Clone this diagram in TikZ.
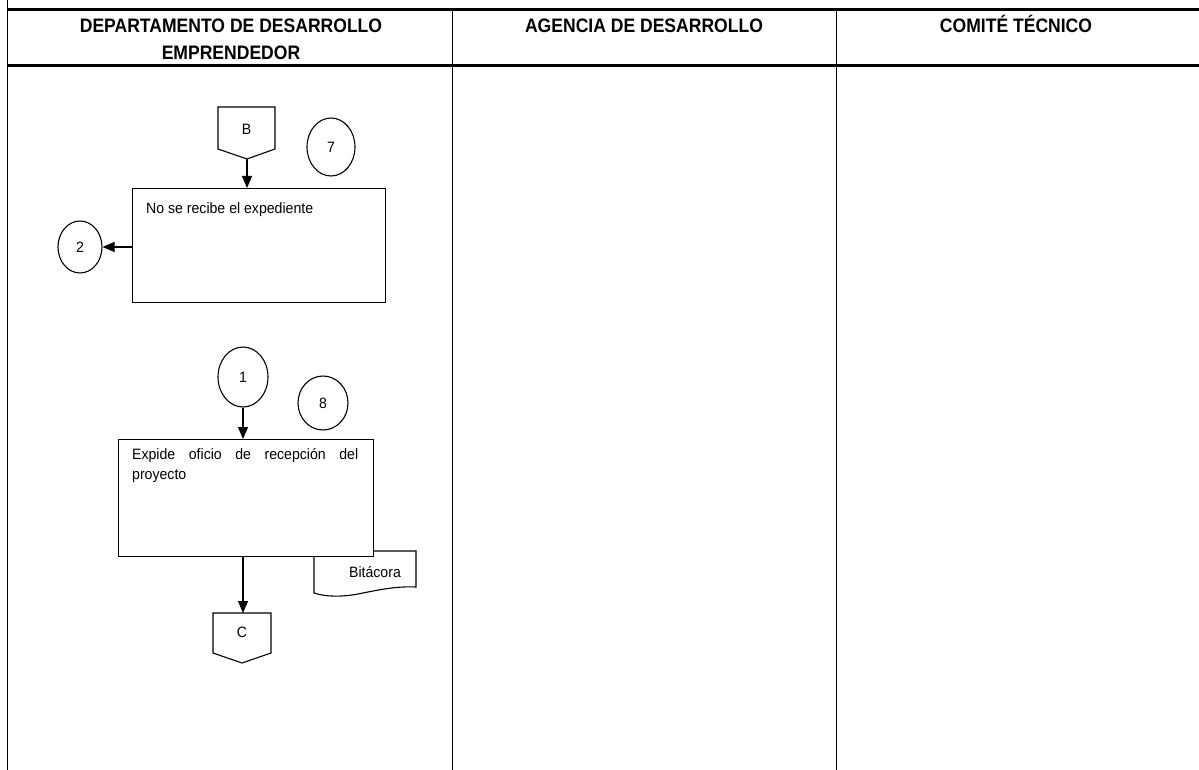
\documentclass[tikz,border=0pt]{standalone}
\usepackage{fontspec}
\setmainfont{Liberation Sans}
\newfontfamily\hdrfont[FakeStretch=0.9]{Liberation Sans}
\newfontfamily\bodyfont[FakeStretch=0.94]{Liberation Sans}
\usetikzlibrary{arrows.meta,shapes.geometric}
\begin{document}
\begin{tikzpicture}[x=1pt,y=-1pt,
  hdr/.style={font=\hdrfont\bfseries\fontsize{19.5}{27}\selectfont, align=center, inner sep=0},
  txt/.style={font=\bodyfont\fontsize{15}{20}\selectfont, inner sep=0},
  heavy/.style={line width=3pt},
  lane/.style={line width=1pt},
  shp/.style={draw, line width=1.1pt},
  circ/.style={shp, ellipse, inner sep=0, font=\bodyfont\fontsize{15}{17}\selectfont},
  boxst/.style={shp, fill=white, rectangle, inner sep=0, anchor=north west},
  arr/.style={line width=1.1pt, -{Triangle[length=12pt,width=10pt]}}
]
\useasboundingbox (0,0) rectangle (1199,770);
% lanes
\draw[lane] (7,0) -- (7,770);
\draw[lane] (452,10) -- (452,770);
\draw[lane] (836,10) -- (836,770);
\draw[heavy] (7,10) -- (1199,10);
\draw[heavy] (7,66) -- (1199,66);
\node[hdr, anchor=base] (h1) at (231,59.5) {DEPARTAMENTO DE DESARROLLO\\EMPRENDEDOR};
\node[hdr, anchor=base] (h2) at (644,32.5) {AGENCIA DE DESARROLLO};
\node[hdr, anchor=base] (h3) at (1016,32.5) {COMITÉ TÉCNICO};

% connector B
\draw[shp] (218,107) -- (275,107) -- (275,149) -- (247,159) -- (218,149) -- cycle;
\node[txt] (B) at (246.5,129) {B};
\coordinate (Btip) at (247,159);
\node[circ, minimum width=48pt, minimum height=58pt] (c7) at (331,147) {7};

% box 1
\node[boxst, minimum width=253pt, minimum height=114pt] (box1) at (132,188) {};
\node[txt, anchor=west] (t1) at (146,210) {No se recibe el expediente};
\draw[arr] (Btip) -- (Btip |- box1.north);
\node[circ, minimum width=44pt, minimum height=52pt] (c2) at (80,247) {2};
\draw[arr] (box1.west |- c2) -- (c2.east);

% circle 1 and 8
\node[circ, minimum width=50pt, minimum height=60pt] (c1) at (243,377) {1};
\node[circ, minimum width=50pt, minimum height=54pt] (c8) at (323,403) {8};

% document Bitacora
\draw[shp, fill=white] (314,551) -- (416,551) -- (416,587)
  .. controls (396,586) and (378,590) .. (358,594)
  .. controls (342,597) and (326,597) .. (314,593) -- cycle;
\node[txt] (doc) at (375,572) {Bitácora};

% box 2
\node[boxst, minimum width=255pt, minimum height=117pt] (box2) at (118,439) {};
\node[txt, anchor=north west, text width=226pt, align=justify] (t2) at (132,448)
  {\hyphenpenalty=10000 Expide oficio de recepción del proyecto};
\draw[arr] (c1.south) -- (c1.south |- box2.north);

% connector C
\draw[shp] (213,613) -- (271,613) -- (271,653) -- (242,663) -- (213,653) -- cycle;
\node[txt] (C) at (242,632) {C};
\coordinate (Ctop) at (243,613);
\draw[arr] (box2.south -| Ctop) -- (Ctop);
\end{tikzpicture}
\end{document}
